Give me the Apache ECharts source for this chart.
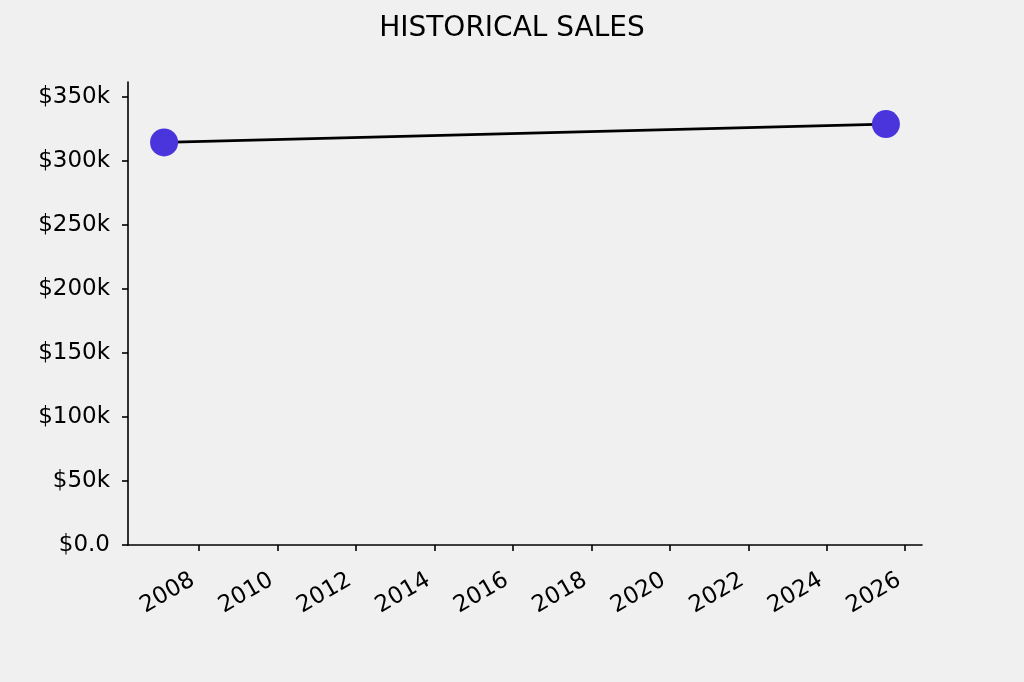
<!DOCTYPE html>
<html>
<head>
<meta charset="utf-8">
<script src="https://cdn.jsdelivr.net/npm/echarts@6/dist/echarts.min.js"></script>
<style>
html,body{margin:0;padding:0;background:#f0f0f0;}
#chart{width:1024px;height:682px;}
</style>
</head>
<body>
<div id="chart"></div>
<script>
const titleText = 'HISTORICAL SALES';
const saleDates = ['2007-02-11', '2025-07-05'];
const saleValues = [314400, 328700];
const xTickYears = [2008, 2010, 2012, 2014, 2016, 2018, 2020, 2022, 2024, 2026];
const yTickValues = [0, 50000, 100000, 150000, 200000, 250000, 300000, 350000];

const ts = saleDates.map(d => new Date(d + 'T00:00:00Z').getTime());
const span = ts[ts.length - 1] - ts[0];
const xMin = ts[0] - span * 0.05;
const xMax = ts[ts.length - 1] + span * 0.05;
const yMax = Math.max(...saleValues) * 1.1;
const xTickTs = xTickYears.map(y => Date.UTC(y, 0, 1));

const font = 'DejaVu Sans';
const chart = echarts.init(document.getElementById('chart'), null, {renderer: 'canvas'});
chart.setOption({
  backgroundColor: '#f0f0f0',
  animation: false,
  title: {
    text: titleText,
    left: 'center',
    top: 10,
    textStyle: {fontFamily: font, fontSize: 28, fontWeight: 'normal', color: '#000'}
  },
  grid: {left: 128, right: 102, top: 82, bottom: 137, containLabel: false},
  xAxis: {
    type: 'value',
    min: xMin,
    max: xMax,
    axisLine: {lineStyle: {color: '#000', width: 1.6}},
    axisTick: {show: true, length: 6, lineStyle: {color: '#000', width: 1.6}, customValues: xTickTs},
    axisLabel: {
      customValues: xTickTs,
      rotate: 30,
      margin: 30,
      padding: [0, 7, 0, 0],
      fontFamily: font,
      fontSize: 23,
      color: '#000',
      formatter: v => String(new Date(v).getUTCFullYear())
    },
    splitLine: {show: false}
  },
  yAxis: {
    type: 'value',
    min: 0,
    max: yMax,
    axisLine: {show: true, lineStyle: {color: '#000', width: 1.6}},
    axisTick: {show: true, length: 6, lineStyle: {color: '#000', width: 1.6}, customValues: yTickValues},
    axisLabel: {
      customValues: yTickValues,
      margin: 18,
      padding: [8, 0, 0, 0],
      fontFamily: font,
      fontSize: 23,
      color: '#000',
      formatter: v => v === 0 ? '$0.0' : '$' + (v / 1000) + 'k'
    },
    splitLine: {show: false}
  },
  series: [{
    type: 'line',
    data: ts.map((t, i) => [t, saleValues[i]]),
    symbol: 'circle',
    symbolSize: 28,
    itemStyle: {color: '#4a35dc'},
    lineStyle: {color: '#000', width: 2.8},
    z: 3
  }]
});
</script>
</body>
</html>
